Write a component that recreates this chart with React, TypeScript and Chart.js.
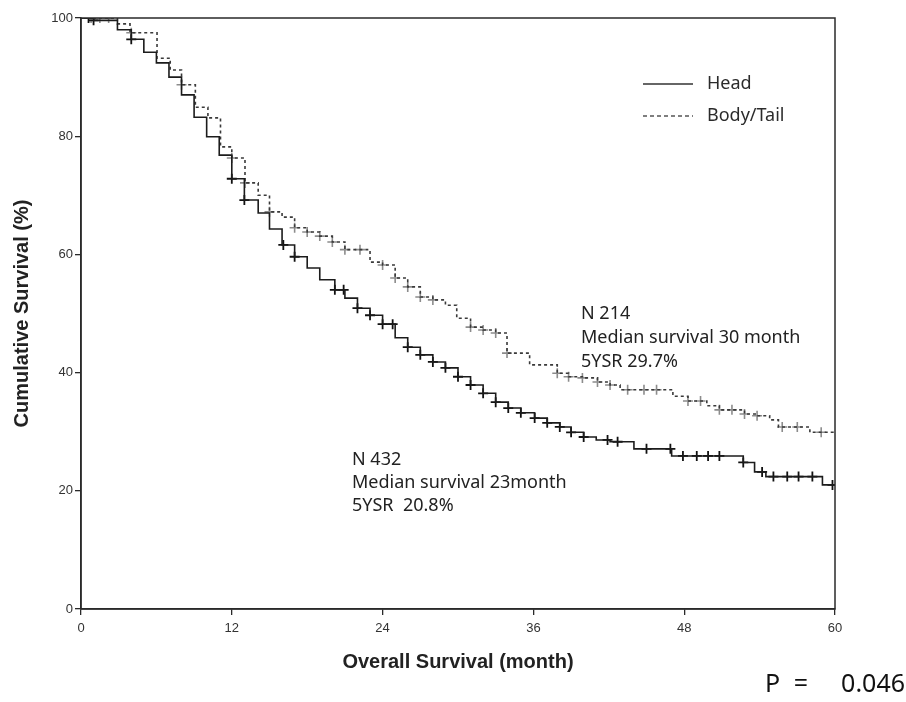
import React, { useEffect, useRef } from "react";
import { Chart, registerables } from "chart.js";

Chart.register(...registerables);

// Kaplan–Meier step data (month, cumulative survival %)
const headTimes = [0, 1.0, 2.9, 4.0, 5.0, 6.0, 7.0, 8.0, 9.0, 10.0, 11.0, 12.0, 13.0, 14.1, 15.0, 16.0, 17.0, 18.0, 19.0, 20.2, 21.0, 22.0, 23.0, 24.0, 25.0, 26.0, 27.0, 28.0, 29.0, 30.0, 31.0, 32.0, 33.0, 34.0, 35.0, 36.1, 37.1, 38.1, 39.0, 40.0, 41.0, 42.1, 44.0, 47.0, 52.7, 53.6, 54.5, 59.0, 60];
const headSurv = [100, 99.6, 98.0, 96.4, 94.2, 92.4, 90.0, 87.0, 83.2, 79.9, 76.8, 72.8, 69.2, 67.0, 64.3, 61.6, 59.6, 57.7, 55.7, 54.0, 52.6, 50.9, 49.7, 48.2, 45.9, 44.3, 43.0, 41.8, 40.8, 39.3, 37.9, 36.5, 35.0, 34.0, 33.2, 32.3, 31.5, 30.8, 29.9, 29.1, 28.6, 28.3, 27.1, 25.9, 24.8, 23.2, 22.4, 21.0, 20.8];
const headCensor = [0.6, 1.0, 4.0, 12.0, 13.0, 16.1, 17.0, 20.2, 20.9, 22.0, 23.0, 24.0, 24.8, 26.0, 27.0, 28.0, 29.0, 30.0, 31.0, 32.0, 33.0, 34.0, 35.0, 36.1, 37.1, 38.1, 39.0, 40.0, 41.9, 42.7, 45.0, 46.9, 47.9, 49.0, 49.9, 50.8, 52.7, 54.2, 55.1, 56.2, 57.1, 58.2, 59.8];

const bodyTimes = [0, 2.9, 3.9, 6.05, 7.1, 8.0, 9.1, 10.1, 11.1, 12.0, 13.05, 14.1, 15.0, 16.0, 17.0, 18.0, 19.0, 20.0, 21.0, 23.0, 24.0, 25.0, 26.0, 27.0, 28.0, 29.0, 29.9, 31.0, 32.0, 33.0, 33.9, 35.7, 37.9, 38.8, 39.9, 41.1, 42.1, 42.9, 47.1, 48.3, 49.8, 50.8, 52.8, 53.8, 54.8, 55.5, 58.0, 60];
const bodySurv = [100, 99.0, 97.5, 93.2, 91.2, 88.7, 84.9, 83.1, 78.2, 76.3, 72.1, 70.0, 67.2, 66.3, 64.5, 63.8, 63.1, 62.1, 60.8, 58.7, 58.2, 56.0, 54.5, 52.8, 52.3, 51.4, 49.2, 47.7, 47.2, 46.7, 43.3, 41.3, 39.9, 39.3, 39.1, 38.4, 37.9, 37.1, 36.0, 35.2, 34.4, 33.7, 33.0, 32.7, 32.0, 30.8, 29.9, 29.8];
const bodyCensor = [0.8, 1.5, 2.2, 4.0, 8.0, 12.0, 13.05, 15.0, 17.0, 18.0, 19.0, 20.0, 21.0, 22.2, 24.0, 25.0, 26.0, 27.0, 28.0, 31.0, 32.0, 33.0, 33.9, 37.9, 38.8, 39.9, 41.1, 42.1, 43.5, 44.8, 45.8, 48.3, 49.3, 50.8, 51.8, 52.8, 53.8, 55.8, 57.0, 58.9];

const seriesLabels = ["Head", "Body/Tail"];
const xTicks = [0, 12, 24, 36, 48, 60];
const yTicks = [0, 20, 40, 60, 80, 100];

const bodyNote = ["N 214", "Median survival 30 month", "5YSR 29.7%"];
const headNote = ["N 432", "Median survival 23month", "5YSR  20.8%"];
const pValue = "P = 0.046";

const survAt = (times: number[], vals: number[], t: number) => {
  let v = vals[0];
  for (let i = 0; i < times.length; i++) {
    if (times[i] <= t + 1e-9) v = vals[i];
  }
  return v;
};

const toPts = (times: number[], vals: number[]) => times.map((t, i) => ({ x: t, y: vals[i] }));
const censorPts = (c: number[], times: number[], vals: number[]) =>
  c.map((t) => ({ x: t, y: survAt(times, vals, t) }));

const HEAD_COLOR = "#1c1c1c";
const BODY_COLOR = "#3a3a3a";
const BODY_CENSOR = "#8c8c8c";
const NOTE_FONT = "'Noto Sans', 'Open Sans', sans-serif";

const overlayPlugin = {
  id: "overlay",
  afterDraw(chart: any) {
    const { ctx, chartArea } = chart;
    ctx.save();
    // plot frame
    ctx.strokeStyle = "#2a2a2a";
    ctx.lineWidth = 1.5;
    ctx.strokeRect(chartArea.left, chartArea.top, chartArea.right - chartArea.left, chartArea.bottom - chartArea.top);

    // legend
    const lx0 = 643, lx1 = 693, tx = 707;
    const ly = [84, 116];
    ctx.font = `18px ${NOTE_FONT}`;
    ctx.textBaseline = "middle";
    ctx.fillStyle = "#2b2b2b";
    seriesLabels.forEach((lab, i) => {
      ctx.beginPath();
      ctx.lineWidth = 1.3;
      ctx.strokeStyle = i === 0 ? "#333" : "#555";
      ctx.setLineDash(i === 0 ? [] : [4, 3]);
      ctx.moveTo(lx0, ly[i]);
      ctx.lineTo(lx1, ly[i]);
      ctx.stroke();
      ctx.setLineDash([]);
      ctx.fillText(lab, tx, ly[i]);
    });

    // annotations
    ctx.font = `18px ${NOTE_FONT}`;
    ctx.fillStyle = "#222";
    bodyNote.forEach((s, i) => ctx.fillText(s, 581, 314 + i * 24));
    headNote.forEach((s, i) => ctx.fillText(s, 352, 460 + i * 23));

    // p-value, spaced as in the source figure
    ctx.font = `25px ${NOTE_FONT}`;
    ctx.fillStyle = "#111";
    const parts = pValue.split(" ");
    ctx.textAlign = "left";
    ctx.fillText(parts[0], 765, 685);
    ctx.textAlign = "center";
    ctx.fillText(parts[1], 801, 685);
    ctx.textAlign = "right";
    ctx.fillText(parts[2], 905, 685);
    ctx.restore();
  },
};

export default function App() {
  const ref = useRef<HTMLCanvasElement | null>(null);

  useEffect(() => {
    document.body.style.margin = "0";
    const canvas = ref.current;
    if (!canvas) return;
    const tickFont = { family: "'Liberation Sans', Arial, sans-serif", size: 13 };
    const titleFont = { family: "'Liberation Sans', Arial, sans-serif", size: 20, weight: "bold" as const };
    const chart = new Chart(canvas, {
      type: "line",
      data: {
        datasets: [
          {
            label: seriesLabels[0],
            data: toPts(headTimes, headSurv),
            stepped: true,
            borderColor: HEAD_COLOR,
            borderWidth: 1.6,
            pointRadius: 0,
            fill: false,
          },
          {
            label: seriesLabels[1],
            data: toPts(bodyTimes, bodySurv),
            stepped: true,
            borderColor: BODY_COLOR,
            borderWidth: 1.6,
            borderDash: [3, 3],
            pointRadius: 0,
            fill: false,
          },
          {
            label: seriesLabels[0] + " censored",
            data: censorPts(headCensor, headTimes, headSurv),
            showLine: false,
            pointStyle: "cross",
            pointRadius: 5,
            pointBorderWidth: 1.8,
            pointBorderColor: "#111",
            borderColor: "#111",
          },
          {
            label: seriesLabels[1] + " censored",
            data: censorPts(bodyCensor, bodyTimes, bodySurv),
            showLine: false,
            pointStyle: "cross",
            pointRadius: 5,
            pointBorderWidth: 1.6,
            pointBorderColor: BODY_CENSOR,
            borderColor: BODY_CENSOR,
          },
        ],
      },
      options: {
        animation: false,
        responsive: false,
        maintainAspectRatio: false,
        layout: { padding: { left: 6, right: 71, top: 18, bottom: 24 } },
        plugins: { legend: { display: false }, tooltip: { enabled: false } },
        scales: {
          x: {
            type: "linear",
            min: 0,
            max: 60,
            afterFit: (s: any) => { s.height = 69; },
            afterBuildTicks: (s: any) => { s.ticks = xTicks.map((v) => ({ value: v })); },
            grid: { display: true, drawOnChartArea: false, drawTicks: true, tickLength: 6, color: "#2a2a2a", lineWidth: 1.3 },
            border: { display: true, color: "#2a2a2a", width: 1.5 },
            ticks: { font: tickFont, color: "#333", padding: 6, maxRotation: 0 },
            title: { display: true, text: "Overall Survival (month)", font: titleFont, color: "#222", padding: { top: 4, bottom: 4 } },
          },
          y: {
            min: 0,
            max: 100,
            afterFit: (s: any) => { s.width = 75; },
            afterBuildTicks: (s: any) => { s.ticks = yTicks.map((v) => ({ value: v })); },
            grid: { display: true, drawOnChartArea: false, drawTicks: true, tickLength: 6, color: "#2a2a2a", lineWidth: 1.3 },
            border: { display: true, color: "#2a2a2a", width: 1.5 },
            ticks: { font: tickFont, color: "#333", padding: 2 },
            title: { display: true, text: "Cumulative Survival (%)", font: titleFont, color: "#222", padding: { top: 4, bottom: 4 } },
          },
        },
      },
      plugins: [overlayPlugin],
    });
    return () => chart.destroy();
  }, []);

  return (
    <div style={{ width: 906, height: 702, background: "#fff" }}>
      <canvas ref={ref} width={906} height={702} style={{ display: "block" }} />
    </div>
  );
}
